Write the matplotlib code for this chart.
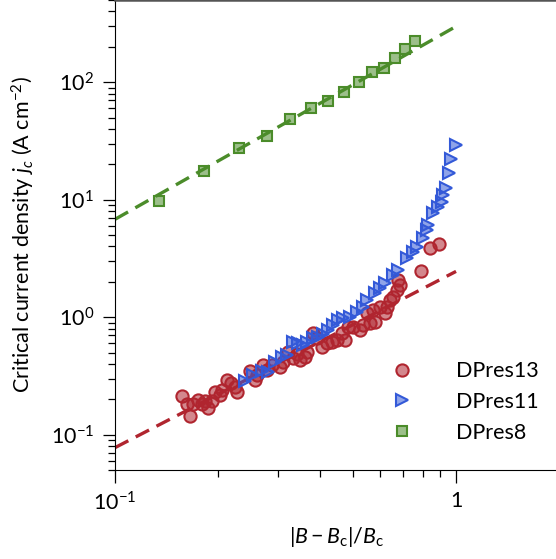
import matplotlib
matplotlib.use('Agg')
import matplotlib.pyplot as plt
from matplotlib.ticker import FixedLocator, FixedFormatter, LogLocator, NullFormatter

plt.rcParams['font.family'] = ['Lato', 'DejaVu Sans']
plt.rcParams['mathtext.fontset'] = 'custom'
plt.rcParams['mathtext.rm'] = 'Lato'
plt.rcParams['mathtext.it'] = 'Lato:italic'
plt.rcParams['mathtext.bf'] = 'Lato:bold'
plt.rcParams['font.size'] = 15.5

# DPres13 (red circles)
red_x = [0.157, 0.163, 0.166, 0.169, 0.175, 0.180, 0.184, 0.187, 0.192, 0.196,
         0.203, 0.206, 0.213, 0.219, 0.225, 0.228, 0.249, 0.257, 0.261, 0.272,
         0.279, 0.289, 0.305, 0.311, 0.322, 0.333, 0.342, 0.349, 0.361, 0.366,
         0.381, 0.391, 0.405, 0.419, 0.433, 0.448, 0.463, 0.472, 0.482, 0.499,
         0.523, 0.534, 0.548, 0.560, 0.571, 0.579, 0.598, 0.619, 0.628, 0.640,
         0.653, 0.671, 0.685, 0.676, 0.789, 0.839, 0.892]
red_y = [0.213, 0.182, 0.144, 0.182, 0.197, 0.182, 0.193, 0.169, 0.193, 0.231,
         0.217, 0.240, 0.292, 0.275, 0.254, 0.231, 0.348, 0.292, 0.321, 0.391,
         0.355, 0.391, 0.376, 0.415, 0.505, 0.449, 0.485, 0.431, 0.457, 0.505,
         0.731, 0.663, 0.556, 0.601, 0.614, 0.638, 0.731, 0.638, 0.822, 0.822,
         0.776, 0.855, 1.08, 0.889, 1.15, 0.908, 1.22, 1.08, 1.22, 1.39,
         1.48, 1.70, 1.87, 2.06, 2.46, 3.86, 4.17]

# DPres11 (blue triangles)
blue_x = [0.240, 0.254, 0.270, 0.281, 0.295, 0.309, 0.320, 0.333, 0.344, 0.355,
          0.366, 0.381, 0.394, 0.408, 0.422, 0.436, 0.451, 0.467, 0.489, 0.513,
          0.534, 0.548, 0.579, 0.598, 0.619, 0.653, 0.676, 0.718, 0.748, 0.769,
          0.800, 0.822, 0.828, 0.857, 0.885, 0.910, 0.916, 0.935, 0.954, 0.967,
          1.0]
blue_y = [0.286, 0.320, 0.350, 0.341, 0.415, 0.455, 0.480, 0.614, 0.601, 0.578,
          0.615, 0.660, 0.676, 0.720, 0.776, 0.855, 0.944, 0.981, 1.00, 1.10,
          1.22, 1.39, 1.60, 1.76, 1.94, 2.27, 2.51, 3.17, 3.57, 3.93,
          4.69, 5.48, 6.05, 7.65, 8.61, 9.49, 10.9, 12.5, 16.7, 22.0,
          28.9]

# DPres8 (green squares)
green_x = [0.135, 0.182, 0.231, 0.279, 0.326, 0.376, 0.421, 0.470, 0.520, 0.567,
           0.615, 0.662, 0.709, 0.758]
green_y = [9.7, 17.4, 27.3, 34.5, 48.1, 59.7, 68.5, 83.2, 99.3, 121,
           133, 162, 193, 226]

# power-law fits (end points of the dashed lines)
red_fit_x = [0.1, 1.0]
red_fit_y = [0.0775, 2.45]
green_fit_x = [0.1, 1.0]
green_fit_y = [6.8, 298]

red = '#b0252f'
blue = '#3359d8'
green = '#4b8c2a'

fig = plt.figure(figsize=(5.56, 5.59), dpi=100)
ax = fig.add_axes([115 / 556, 89 / 559, 443.7 / 556, 470 / 559])

ax.plot(red_fit_x, red_fit_y, '--', color=red, lw=2.4, dashes=(4.5, 2.5), zorder=1)
ax.plot(green_fit_x, green_fit_y, '--', color=green, lw=2.4, dashes=(4.5, 2.5), zorder=1)

ax.plot(red_x, red_y, 'o', ms=8.8, mfc=matplotlib.colors.to_rgba(red, 0.55),
        mec=red, mew=1.5, ls='none', label='DPres13', zorder=2)
ax.plot(blue_x, blue_y, '>', ms=8.8, mfc=matplotlib.colors.to_rgba(blue, 0.55),
        mec=blue, mew=1.5, ls='none', label='DPres11', zorder=3)
ax.plot(green_x, green_y, 's', ms=7.5, mfc=matplotlib.colors.to_rgba(green, 0.55),
        mec=green, mew=1.5, ls='none', label='DPres8', zorder=3)

ax.set_xscale('log')
ax.set_yscale('log')
ax.set_xlim(0.1, 2)
ax.set_ylim(0.05, 500)

ax.xaxis.set_major_locator(FixedLocator([0.1, 1]))
ax.xaxis.set_major_formatter(FixedFormatter([r'$10^{-1}$', '1']))
ax.xaxis.set_minor_locator(LogLocator(base=10, subs=range(2, 10)))
ax.xaxis.set_minor_formatter(NullFormatter())
ax.yaxis.set_minor_locator(LogLocator(base=10, subs=range(2, 10), numticks=20))
ax.yaxis.set_minor_formatter(NullFormatter())

ax.tick_params(which='major', direction='out', length=9, width=0.9, pad=6)
ax.tick_params(which='minor', direction='out', length=5, width=0.9)

ax.spines['top'].set_color('#555555')
ax.spines['top'].set_linewidth(1.8)
ax.spines['right'].set_visible(False)

ax.set_xlabel(r'$|B - B_{\mathrm{c}}|/B_{\mathrm{c}}$', labelpad=8)
ax.set_ylabel(r'Critical current density $j_c$ (A cm$^{-2}$)', labelpad=10)

ax.legend(loc='center', bbox_to_anchor=(460 / 556, 1 - 402 / 559),
          bbox_transform=fig.transFigure, frameon=False,
          handletextpad=1.5, labelspacing=0.5, borderaxespad=0)

fig.savefig('out.png', dpi=100)
